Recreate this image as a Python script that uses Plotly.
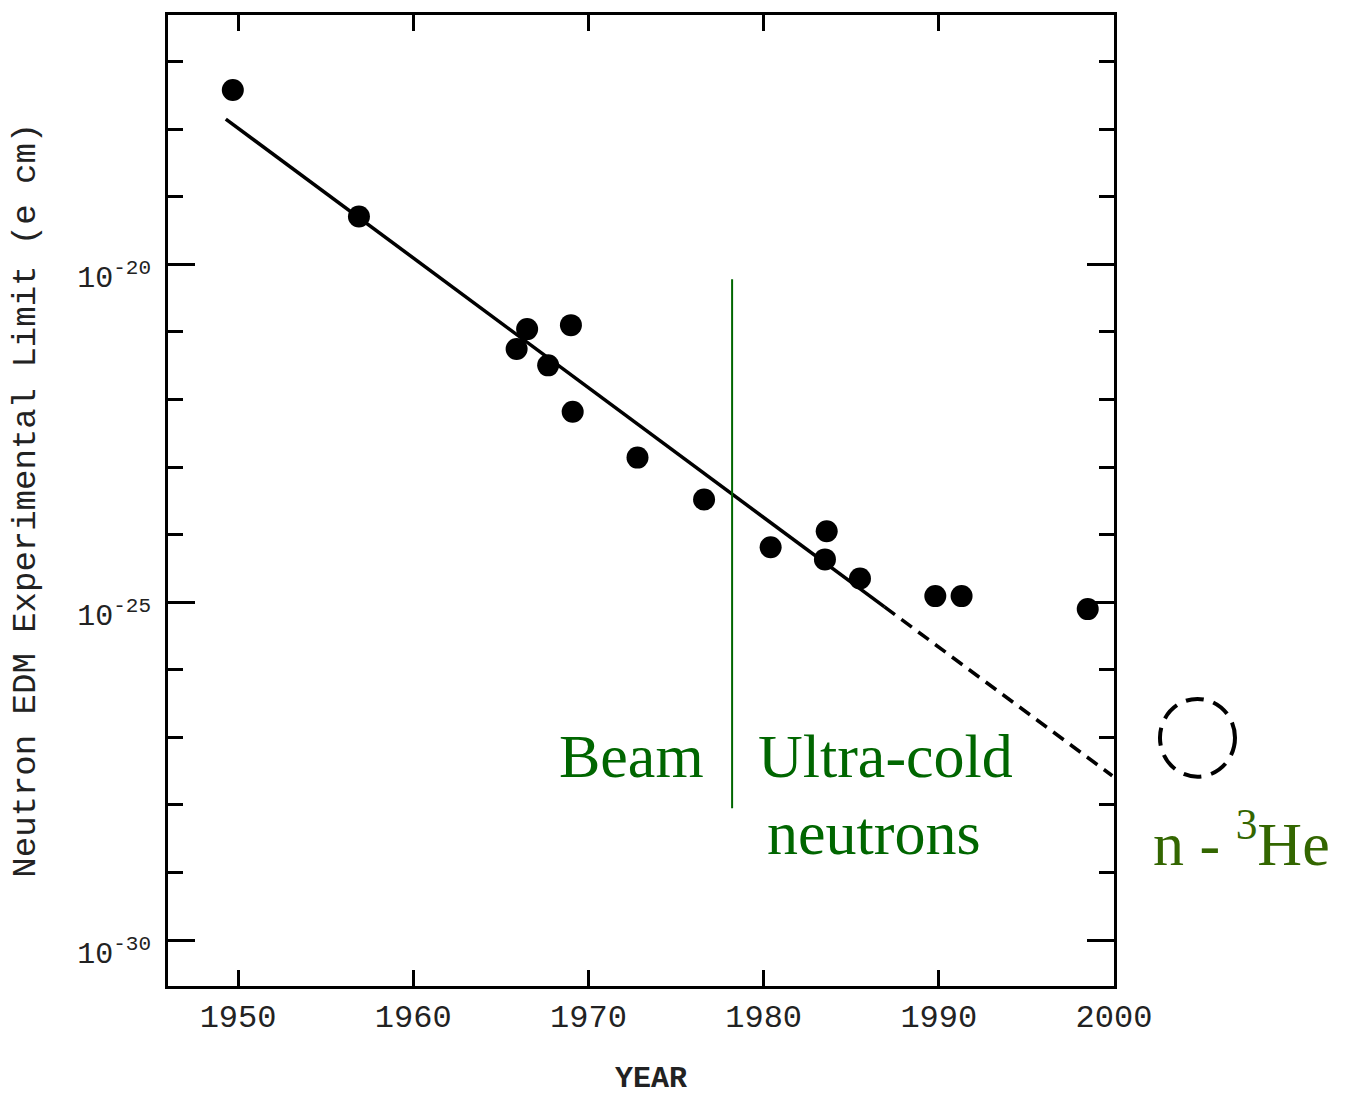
import plotly.graph_objects as go

# Pontos medidos (ano, limite experimental do EDM do nêutron em e·cm)
anos = [1949.7, 1956.9, 1965.9, 1966.5, 1967.7, 1969.0, 1969.1, 1972.8,
        1976.6, 1980.4, 1983.6, 1983.5, 1985.5, 1989.8, 1991.3, 1998.5]
limites = [3.8e-18, 5.1e-20, 5.6e-22, 1.1e-21, 3.2e-22, 1.26e-21, 6.6e-23, 1.38e-23,
           3.3e-24, 6.5e-25, 1.12e-24, 4.3e-25, 2.24e-25, 1.23e-25, 1.23e-25, 7.9e-26]

# reta de tendência: trecho cheio e extrapolação tracejada
tendencia_anos = [1949.3, 1986.9]
tendencia_vals = [1.41e-18, 8.5e-26]
extrapolacao_anos = [1986.9, 1999.9]
extrapolacao_vals = [8.5e-26, 2.7e-28]

# divisória feixe / ultra-frios
divisoria_anos = [1978.2, 1978.2]
divisoria_vals = [6.0e-21, 8.9e-29]

anos_ticks = [1950, 1960, 1970, 1980, 1990, 2000]
decadas_maiores = [1e-30, 1e-25, 1e-20]
rotulos_maiores = ['10<sup>-30</sup>', '10<sup>-25</sup>', '10<sup>-20</sup>']
decadas_menores = [10.0 ** -k for k in range(17, 31)]

FONTE_MAQ = 'Liberation Mono, Courier New, monospace'
FONTE_SERIF = 'Liberation Serif, Times New Roman, serif'
VERDE = '#006600'
VERDE_OLIVA = '#336600'

fig = go.Figure()

fig.add_trace(go.Scatter(
    x=tendencia_anos, y=tendencia_vals, mode='lines',
    line=dict(color='black', width=3.5), showlegend=False, hoverinfo='skip',
))
fig.add_trace(go.Scatter(
    x=extrapolacao_anos, y=extrapolacao_vals, mode='lines',
    line=dict(color='black', width=3.5, dash='13px,8px'), showlegend=False, hoverinfo='skip',
))
fig.add_trace(go.Scatter(
    x=divisoria_anos, y=divisoria_vals, mode='lines',
    line=dict(color=VERDE, width=2), showlegend=False, hoverinfo='skip',
))
fig.add_trace(go.Scatter(
    x=anos, y=limites, mode='markers',
    marker=dict(color='black', size=22), showlegend=False,
))

fig.update_xaxes(
    range=[1946, 2000],
    tickvals=anos_ticks,
    ticks='inside', ticklen=16, tickwidth=3, tickcolor='black',
    showline=True, linecolor='black', linewidth=3, mirror='ticks',
    showgrid=False, zeroline=False,
    tickfont=dict(family=FONTE_MAQ, size=32, color='#222'),
)
fig.update_yaxes(
    type='log',
    range=[-30.68, -16.31],
    tickvals=decadas_maiores, ticktext=rotulos_maiores,
    ticks='inside', ticklen=27, tickwidth=3, tickcolor='black',
    minor=dict(tickmode='array', tickvals=decadas_menores, ticks='inside',
               ticklen=15, tickwidth=3, tickcolor='black', showgrid=False),
    showline=True, linecolor='black', linewidth=3, mirror='ticks',
    showgrid=False, zeroline=False,
    tickfont=dict(family=FONTE_MAQ, size=30, color='#222'),
    ticklabelstandoff=8, ticklabelshift=12,
)

fig.add_annotation(
    text='Neutron EDM Experimental Limit (e cm)', textangle=-90,
    xref='paper', yref='paper', x=-0.151, y=0.5,
    xanchor='center', yanchor='middle', showarrow=False,
    font=dict(family=FONTE_MAQ, size=34, color='#222'),
)
fig.add_annotation(
    text='<b>YEAR</b>', xref='paper', yref='paper', x=0.5106, y=-0.0955,
    xanchor='center', yanchor='middle', showarrow=False,
    font=dict(family=FONTE_MAQ, size=30, color='#222'),
)
fig.add_annotation(
    text='Beam', xref='paper', yref='paper', x=0.5687, y=0.237,
    xanchor='right', yanchor='middle', showarrow=False,
    font=dict(family=FONTE_SERIF, size=62, color=VERDE),
)
fig.add_annotation(
    text='Ultra-cold', xref='paper', yref='paper', x=0.6215, y=0.237,
    xanchor='left', yanchor='middle', showarrow=False,
    font=dict(family=FONTE_SERIF, size=62, color=VERDE),
)
fig.add_annotation(
    text='neutrons', xref='paper', yref='paper', x=0.6315, y=0.158,
    xanchor='left', yanchor='middle', showarrow=False,
    font=dict(family=FONTE_SERIF, size=62, color=VERDE),
)
fig.add_annotation(
    text='n - <sup>3</sup>He', xref='paper', yref='paper', x=1.0395, y=0.151,
    xanchor='left', yanchor='middle', showarrow=False,
    font=dict(family=FONTE_SERIF, size=62, color=VERDE_OLIVA),
)

# círculo tracejado (projeção n-3He), fora da área do gráfico
fig.add_shape(
    type='circle', xref='paper', yref='paper',
    x0=1.0486, x1=1.1279, y0=0.2156, y1=0.2957,
    line=dict(color='black', width=4, dash='18px,10px'),
)

fig.update_layout(
    width=1349, height=1099,
    paper_bgcolor='white', plot_bgcolor='white',
    margin=dict(l=168, r=235, t=12, b=113),
)

fig.write_html('out.html', config={'displayModeBar': False},
               post_script="document.body.style.margin='0';")
